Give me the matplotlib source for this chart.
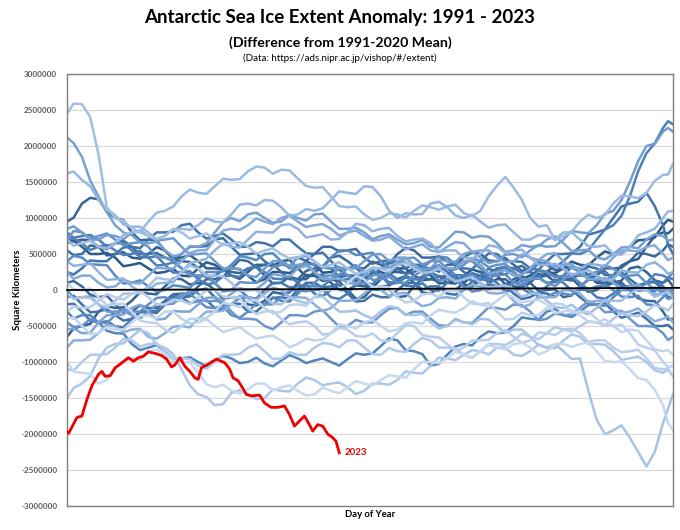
import numpy as np
import matplotlib
matplotlib.use("Agg")
import matplotlib.pyplot as plt
from matplotlib.colors import LinearSegmentedColormap

plt.rcParams['font.family'] = ['Lato', 'DejaVu Sans']

# Day-of-year sample positions for the historical series
days = [1, 5, 10, 15, 20, 25, 30, 35, 40, 45, 50, 55, 60, 65, 70, 75, 80, 85, 90, 95, 100, 105,
        110, 115, 120, 125, 130, 135, 140, 145, 150, 155, 160, 165, 170, 175, 180, 185, 190, 195,
        200, 205, 210, 215, 220, 225, 230, 235, 240, 245, 250, 255, 260, 265, 270, 275, 280, 285,
        290, 295, 300, 305, 310, 315, 320, 325, 330, 335, 340, 345, 350, 355, 360, 363, 366]

# Anomalies in thousand km^2
y1991 = [650,685,600,500,500,515,450,330,350,375,300,235,250,295,200,190,300,385,350,275,300,290,200,105,150,250,250,235,300,395,350,240,250,285,200,125,150,240,250,205,300,300,200,135,150,195,100,90,200,285,250,225,300,315,250,155,200,275,250,235,300,395,350,340,450,535,500,500,600,690,700,730,900,975,950]
y1992 = [750,675,700,690,600,480,500,525,450,435,500,595,550,440,450,485,400,300,300,290,200,155,250,350,350,335,400,420,300,190,200,210,100,0,0,65,50,30,150,250,250,235,300,320,200,90,100,135,50,50,150,215,200,80,100,175,150,160,250,345,300,190,200,210,100,100,200,340,400,430,600,750,800,785,850]
y1993 = [-650,-535,-500,-470,-300,-225,-250,-240,-150,-30,-50,-60,50,160,150,75,100,90,0,-120,-100,-100,-200,-215,-150,-30,-50,-35,100,210,200,125,150,115,0,-120,-100,25,50,60,150,195,100,-35,-50,35,0,0,100,190,200,105,150,150,50,35,100,220,200,115,150,160,50,-25,0,90,100,130,300,325,250,135,100,145,50]
y1994 = [950,1005,1200,1280,1260,1090,1000,970,800,690,700,685,550,425,400,390,300,180,200,275,250,235,300,320,200,90,100,185,150,150,250,315,300,180,200,200,100,10,0,20,-100,-85,50,160,150,125,200,190,100,-20,0,75,50,60,150,195,100,-10,0,10,-100,-75,50,140,150,55,100,100,0,-115,-150,-155,-300,-410,-400]
y1995 = [100,125,50,-65,-100,-80,-200,-310,-300,-215,-250,-250,-150,-60,-50,-70,50,150,150,185,300,420,400,315,350,360,250,150,150,265,300,305,450,475,400,310,300,395,350,365,500,585,550,450,450,465,400,355,450,525,500,410,400,445,350,265,300,385,350,275,300,315,250,155,200,300,300,310,400,520,500,465,550,635,600]
y1996 = [550,485,500,620,600,565,650,685,600,500,500,515,450,405,500,600,600,610,700,720,600,490,500,510,400,325,350,440,450,405,500,600,600,535,550,570,450,365,400,410,300,225,250,315,300,255,350,350,250,185,200,295,250,215,300,335,250,175,200,215,150,130,250,325,300,210,200,245,150,65,100,110,0,-100,-100]
y1997 = [-100,-80,-200,-310,-300,-265,-350,-425,-400,-310,-300,-320,-200,-100,-100,-90,0,20,-100,-210,-200,-190,-300,-300,-200,-110,-100,-120,0,100,100,35,50,70,-50,-160,-150,-65,-100,-100,0,90,100,5,50,50,-50,-65,0,120,100,15,50,60,-50,-125,-100,-35,-50,-95,0,0,-100,-190,-200,-180,-300,-385,-350,-315,-400,-500,-500,-485,-550]
y1998 = [250,215,300,410,400,400,500,590,600,580,700,800,800,810,900,920,800,715,750,785,700,600,600,665,650,605,700,700,600,510,500,520,400,290,300,310,200,200,300,390,400,305,350,350,250,185,200,320,300,290,400,510,500,400,400,390,300,280,400,500,500,510,600,770,800,840,1000,1160,1200,1225,1350,1165,900,630,500]
y1999 = [-200,-190,-300,-425,-450,-435,-500,-520,-400,-300,-300,-290,-200,-80,-100,-185,-150,-140,-250,-275,-200,-110,-100,-120,0,100,100,35,50,70,-50,-85,0,135,150,150,250,265,200,80,100,175,150,185,300,345,250,140,150,235,200,200,300,315,250,130,150,175,100,110,200,320,300,215,250,260,150,50,50,65,0,-20,100,175,150]
y2000 = [800,725,750,765,700,605,650,650,550,460,450,470,350,240,250,260,150,75,100,190,200,180,300,325,250,160,150,195,100,-10,0,10,-100,-125,-50,65,100,80,200,225,150,60,50,95,0,-10,100,210,200,125,150,165,100,-20,0,25,-50,-40,50,145,100,-10,0,10,-100,-125,-50,40,50,5,100,125,50,-15,0]
y2001 = [700,715,650,555,600,625,550,485,500,545,450,340,350,385,300,200,200,190,100,-20,0,0,-100,-190,-200,-105,-150,-160,-50,60,50,50,150,215,200,155,250,275,200,110,100,195,150,140,250,335,300,200,200,215,150,130,250,325,300,235,250,370,350,315,400,510,500,550,700,840,900,1030,1300,1650,1900,2035,2250,2345,2300]
y2002 = [-300,-395,-350,-350,-450,-565,-600,-605,-750,-835,-800,-765,-850,-950,-950,-935,-1000,-1060,-980,-915,-950,-1015,-1000,-940,-1020,-1060,-980,-905,-950,-1015,-980,-950,-1000,-1050,-960,-880,-900,-880,-780,-670,-700,-835,-850,-890,-1050,-1025,-900,-785,-750,-770,-650,-575,-600,-590,-500,-380,-400,-410,-300,-265,-350,-375,-300,-210,-200,-220,-100,0,0,10,100,220,200,165,250]
y2003 = [400,475,450,360,350,345,200,90,100,135,50,-25,0,65,50,30,150,250,250,260,350,470,450,415,500,510,400,300,300,365,350,330,450,550,550,485,500,520,400,315,350,385,300,300,400,465,450,355,400,400,300,210,200,220,100,65,150,260,250,175,200,190,100,5,50,75,0,-90,-100,-80,-200,-210,-100,10,0]
y2004 = [-450,-515,-500,-405,-450,-460,-350,-265,-300,-300,-200,-110,-100,-145,-50,-50,-150,-240,-250,-230,-350,-385,-300,-190,-200,-200,-100,-10,0,-20,100,200,200,210,300,345,250,140,150,185,100,100,200,265,250,130,150,150,50,-15,0,95,50,15,100,110,0,-100,-100,-35,-50,-70,50,150,150,135,200,220,100,-10,0,35,-50,-125,-100]
y2005 = [700,820,800,715,750,785,700,625,650,665,600,455,450,425,300,210,200,220,100,-10,0,110,100,100,200,315,350,330,450,475,400,310,300,320,200,90,100,210,200,225,350,440,450,355,400,400,300,285,350,445,400,315,350,360,250,150,150,165,100,55,150,225,200,185,250,345,300,190,200,210,100,0,0,15,-50]
y2006 = [0,-110,-100,-90,-200,-300,-300,-285,-350,-395,-300,-200,-200,-190,-100,-5,-50,-160,-150,-165,-300,-400,-400,-410,-500,-545,-450,-350,-350,-365,-300,-280,-400,-510,-500,-415,-450,-450,-350,-260,-250,-345,-300,-300,-400,-490,-500,-405,-450,-460,-350,-240,-250,-275,-200,-210,-300,-420,-400,-325,-350,-340,-250,-155,-200,-310,-300,-290,-400,-500,-500,-510,-600,-695,-650]
y2007 = [850,885,800,700,700,765,750,705,800,825,750,685,700,720,600,490,500,510,400,300,300,290,200,180,300,400,400,335,350,370,250,165,200,310,300,300,400,490,500,405,450,450,350,285,300,420,400,390,500,535,450,375,400,490,500,455,550,625,600,610,700,820,800,790,900,1060,1100,1250,1500,1790,2000,2030,2200,2250,2200]
y2008 = [2120,2040,1850,1520,1300,1080,900,800,760,665,650,670,550,465,500,610,600,650,800,940,1000,955,1050,1075,1000,935,950,1045,1000,965,1050,1060,950,850,850,865,800,705,750,775,700,635,650,695,600,590,700,810,800,725,750,740,650,530,550,625,600,610,700,745,650,540,550,560,450,425,500,590,600,580,700,775,750,685,700]
y2009 = [-550,-535,-600,-595,-450,-350,-350,-340,-250,-205,-300,-410,-400,-290,-300,-300,-200,-110,-100,-145,-50,25,0,10,100,220,200,190,300,335,250,150,150,165,100,80,200,300,300,310,400,445,350,240,250,335,300,300,400,415,350,230,250,275,200,210,300,420,400,315,350,360,250,150,150,165,100,5,50,75,0,-65,-50,-5,-100]
y2010 = [250,155,200,200,100,35,50,145,100,90,200,310,300,300,400,515,550,555,700,825,850,835,900,995,950,915,1000,1035,950,875,900,915,850,755,800,825,750,685,700,745,650,565,600,635,550,525,600,665,650,530,550,550,450,385,400,495,450,415,500,510,400,300,300,365,350,330,450,550,550,535,600,620,500,415,450]
y2011 = [-800,-700,-700,-690,-600,-480,-500,-585,-550,-540,-650,-675,-600,-510,-500,-520,-400,-300,-300,-290,-200,-80,-100,-135,-50,35,0,-100,-100,-110,-200,-295,-250,-150,-150,-140,-50,45,0,-85,-50,-40,-150,-225,-200,-110,-100,-120,0,75,50,-40,-50,-30,-150,-235,-200,-90,-100,-100,0,15,-50,-170,-150,-150,-250,-315,-300,-255,-350,-435,-400,-365,-450]
y2012 = [400,335,350,370,250,140,150,160,50,-25,0,90,100,105,250,375,400,435,550,645,600,590,700,810,800,800,900,915,850,730,750,775,700,710,800,920,900,815,850,860,750,675,700,715,650,530,550,550,450,435,500,620,600,515,550,560,450,350,350,365,300,205,250,275,200,135,150,270,250,240,350,385,300,225,250]
y2013 = [1620,1645,1530,1440,1250,1120,1040,910,880,880,800,705,750,850,850,835,900,995,950,940,1050,1185,1200,1175,1250,1240,1150,1030,1050,1125,1100,1135,1250,1370,1350,1335,1440,1430,1300,1100,1000,1065,1050,1055,1200,1225,1150,1035,1000,1045,950,865,900,910,800,700,700,765,750,705,800,800,700,610,600,620,500,490,600,760,800,850,1000,1090,1100]
y2014 = [700,615,650,685,600,575,650,765,800,805,950,1075,1100,1160,1300,1395,1350,1335,1440,1545,1530,1540,1650,1715,1700,1615,1670,1660,1550,1445,1420,1430,1300,1165,1150,1160,1050,975,1000,1065,1050,1005,1100,1175,1150,1115,1160,1185,1070,1025,1100,1300,1450,1570,1420,1250,1000,880,900,690,750,810,950,1045,1000,1040,1200,1310,1300,1275,1350,1515,1600,1605,1750]
y2015 = [2450,2590,2580,2400,1880,1150,1000,960,860,800,750,710,750,845,800,715,750,785,700,625,650,665,600,505,550,575,500,435,450,495,400,315,350,385,300,225,250,315,300,255,350,375,300,235,250,295,200,115,150,185,100,25,50,65,0,-95,-50,-50,-150,-240,-250,-205,-300,-335,-250,-140,-150,-150,-50,15,0,-95,-50,-25,-100]
y2016 = [-50,-125,-100,-110,-200,-245,-150,-50,-50,-40,50,170,150,140,250,335,300,200,200,190,100,-20,0,0,-100,-190,-200,-105,-150,-185,-100,-90,-200,-300,-300,-285,-350,-395,-300,-225,-250,-340,-350,-330,-450,-535,-500,-415,-450,-475,-400,-410,-500,-595,-550,-550,-650,-765,-800,-755,-850,-960,-950,-1400,-1800,-2000,-1950,-1880,-2050,-2250,-2450,-2250,-1850,-1650,-1450]
y2017 = [-1500,-1360,-1300,-1195,-950,-800,-750,-740,-650,-555,-600,-760,-800,-890,-1100,-1325,-1450,-1485,-1600,-1585,-1430,-1390,-1450,-1515,-1500,-1380,-1400,-1410,-1300,-1215,-1250,-1325,-1300,-1285,-1350,-1445,-1400,-1300,-1300,-1315,-1250,-1130,-1150,-1160,-1050,-940,-950,-975,-900,-835,-850,-895,-800,-800,-900,-915,-850,-755,-800,-810,-700,-615,-650,-750,-750,-760,-850,-970,-950,-925,-1000,-1115,-1150,-1105,-1200]
y2018 = [-1100,-1120,-1000,-900,-900,-890,-800,-680,-700,-785,-750,-740,-850,-950,-950,-960,-1050,-1095,-1000,-900,-900,-890,-800,-755,-850,-960,-950,-865,-900,-900,-800,-735,-750,-795,-700,-700,-800,-890,-900,-805,-850,-860,-750,-665,-700,-800,-800,-810,-900,-945,-850,-750,-750,-765,-700,-605,-650,-685,-600,-515,-550,-575,-500,-435,-450,-495,-400,-325,-350,-365,-300,-205,-250,-285,-200]
y2019 = [-300,-225,-250,-240,-150,-55,-100,-135,-50,-15,-100,-200,-200,-135,-150,-195,-100,0,0,-90,-100,-105,-250,-335,-300,-290,-400,-475,-450,-435,-500,-620,-600,-525,-550,-640,-650,-605,-700,-710,-600,-490,-500,-625,-650,-660,-750,-845,-800,-700,-700,-690,-600,-555,-650,-735,-700,-590,-600,-625,-550,-535,-600,-720,-700,-700,-800,-865,-850,-830,-950,-1085,-1100,-1090,-1200]
y2020 = [100,10,0,20,-100,-210,-200,-190,-300,-425,-450,-460,-550,-595,-500,-400,-400,-390,-300,-180,-200,-235,-150,-140,-250,-325,-300,-210,-200,-220,-100,0,0,10,100,195,150,40,50,35,-100,-175,-150,-60,-50,-95,0,0,-100,-190,-200,-180,-300,-410,-400,-315,-350,-350,-250,-185,-200,-320,-300,-300,-400,-490,-500,-480,-600,-760,-800,-840,-1000,-1075,-1050]
y2021 = [-400,-380,-500,-610,-600,-515,-550,-550,-450,-360,-350,-395,-300,-300,-400,-465,-450,-405,-500,-585,-550,-515,-600,-675,-650,-635,-700,-795,-750,-675,-700,-690,-600,-480,-500,-535,-450,-415,-500,-575,-550,-460,-450,-470,-350,-275,-300,-315,-250,-155,-200,-235,-150,-65,-100,-175,-150,-135,-200,-320,-300,-275,-350,-440,-450,-405,-500,-585,-550,-565,-700,-825,-850,-835,-900]
y2022 = [-1000,-1135,-1150,-1165,-1300,-1250,-1100,-985,-950,-970,-850,-825,-900,-990,-1000,-1005,-1150,-1310,-1350,-1315,-1400,-1440,-1380,-1300,-1300,-1395,-1350,-1325,-1400,-1465,-1450,-1355,-1400,-1435,-1350,-1265,-1300,-1325,-1250,-1185,-1200,-1220,-1100,-1000,-1000,-1015,-950,-855,-900,-935,-850,-765,-800,-825,-750,-735,-800,-895,-850,-750,-750,-790,-750,-730,-850,-985,-1000,-990,-1100,-1225,-1250,-1385,-1600,-1845,-1950]

years = list(range(1991, 2023))
series = [y1991, y1992, y1993, y1994, y1995, y1996, y1997, y1998, y1999, y2000,
          y2001, y2002, y2003, y2004, y2005, y2006, y2007, y2008, y2009, y2010,
          y2011, y2012, y2013, y2014, y2015, y2016, y2017, y2018, y2019, y2020,
          y2021, y2022]

# 2023 (thousand km^2)
days_2023 = [1, 2, 7, 10, 13, 16, 20, 22, 24, 27, 30, 33, 38, 41, 44, 47, 50, 54, 58, 61, 64, 66,
             69, 72, 75, 78, 80, 82, 86, 91, 96, 99, 101, 104, 106, 109, 112, 117, 120, 124, 128,
             132, 135, 138, 144, 147, 149, 152, 155, 158, 161, 163, 165]
y2023 = [-1970, -1990, -1770, -1750, -1520, -1330, -1170, -1130, -1200, -1190, -1080, -1030, -940,
         -990, -940, -920, -860, -880, -910, -960, -1070, -1040, -940, -1060, -1130, -1220, -1240,
         -1080, -1030, -960, -1010, -1100, -1220, -1260, -1330, -1450, -1470, -1460, -1570, -1630,
         -1630, -1610, -1730, -1890, -1750, -1870, -1960, -1870, -1890, -2000, -2050, -2100, -2260]

yticks = list(range(-3000000, 3000001, 500000))
ytick_labels = [str(v) for v in yticks]

fig = plt.figure(figsize=(6.8, 5.3), dpi=100)
ax = fig.add_axes([67/680, 1-506/530, (673-67)/680, (506-74)/530])

cmap = LinearSegmentedColormap.from_list('blues', ['#2c5a88', '#4f82bd', '#8fb2de', '#c8d9ef'])
n = len(series)
for i, (yr, vals) in enumerate(zip(years, series)):
    ax.plot(days, np.array(vals) * 1000, color=cmap(i / (n - 1)), lw=1.8,
            solid_joinstyle='round', zorder=2)

ax.plot([1, 371], [0, 30000], color='black', lw=1.3, zorder=3, clip_on=False)

ax.plot(days_2023, np.array(y2023) * 1000, color='#ee0000', lw=2.0, zorder=4)
ax.text(days_2023[-1] + 3, y2023[-1] * 1000, '2023', color='#ee0000', fontsize=7, fontweight='bold',
        ha='left', va='center')

ax.set_xlim(1, 366)
ax.set_ylim(-3000000, 3000000)
ax.set_yticks(yticks)
ax.set_yticklabels(ytick_labels, fontsize=5.8, fontweight='bold', color='#595959')
ax.set_xticks([])
ax.tick_params(axis='y', length=0, pad=7)
ax.grid(axis='y', color='#d9d9d9', lw=0.9, zorder=0)
ax.set_axisbelow(True)
for s in ax.spines.values():
    s.set_color('#7f7f7f')
    s.set_linewidth(1.0)

ax.set_ylabel('Square Kilometers', fontsize=7, fontweight='bold')
ax.yaxis.set_label_coords(-0.074, 0.5)
ax.set_xlabel('Day of Year', fontsize=6.8, fontweight='bold', labelpad=3)

fig.text(0.5, 1-18/530, 'Antarctic Sea Ice Extent Anomaly: 1991 - 2023', ha='center', va='center',
         fontsize=13.5, fontweight='bold')
fig.text(0.5, 1-43/530, '(Difference from 1991-2020 Mean)', ha='center', va='center',
         fontsize=10.2, fontweight='bold')
fig.text(0.5, 1-58/530, '(Data: https://ads.nipr.ac.jp/vishop/#/extent)', ha='center', va='center',
         fontsize=7)

fig.savefig('out.png', dpi=100, facecolor='white')
